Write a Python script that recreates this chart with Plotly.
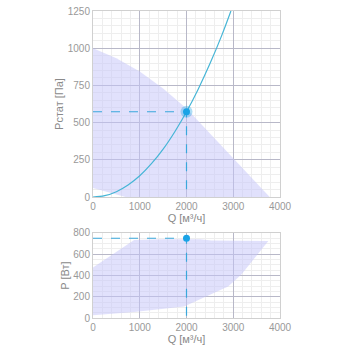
import plotly.graph_objects as go

# Fan working area (static pressure)
area_q = [0, 500, 1000, 1500, 2000, 2500, 3000, 3500, 3780, 700, 0]
area_p = [1000, 933, 843, 730, 595, 427, 260, 92, 0, 0, 60]

# System curve
sys_q = [0, 250, 500, 750, 1000, 1250, 1500, 1750, 2000, 2250, 2500, 2750, 2950]
sys_p = [0, 9, 36, 81, 143, 224, 322, 439, 573, 725, 895, 1083, 1250]

# Power area
pow_q = [0, 880, 1500, 2300, 2530, 3000, 3750, 3170, 2890, 1950, 880, 0]
pow_w = [475, 734, 742, 740, 728, 727, 725, 406, 297, 109, 56, 25]

op_q = 2000
op_p = 573
op_w = 750

fill_col = "rgba(195,195,250,0.5)"
curve_col = "#45b5d6"
pt_col = "#1aa3e6"
dash_col = "#3aa8dc"

fig = go.Figure()
fig.add_trace(go.Scatter(x=area_q, y=area_p, fill="toself", fillcolor=fill_col,
                         line=dict(width=0), mode="lines", xaxis="x", yaxis="y"))
fig.add_trace(go.Scatter(x=sys_q, y=sys_p, mode="lines", line=dict(color=curve_col, width=1.2, shape="spline"),
                         xaxis="x", yaxis="y"))
fig.add_trace(go.Scatter(x=[0, op_q, op_q], y=[op_p, op_p, 0], mode="lines",
                         line=dict(color=dash_col, width=1.2, dash="dash"), xaxis="x", yaxis="y"))
fig.add_trace(go.Scatter(x=[op_q], y=[op_p], mode="markers",
                         marker=dict(size=12, color="rgba(26,163,230,0.35)"), xaxis="x", yaxis="y"))
fig.add_trace(go.Scatter(x=[op_q], y=[op_p], mode="markers",
                         marker=dict(size=7, color=pt_col), xaxis="x", yaxis="y"))

fig.add_trace(go.Scatter(x=pow_q, y=pow_w, fill="toself", fillcolor=fill_col,
                         line=dict(width=0), mode="lines", xaxis="x2", yaxis="y2"))
fig.add_trace(go.Scatter(x=[0, op_q, op_q], y=[op_w, op_w, 0], mode="lines",
                         line=dict(color=dash_col, width=1.2, dash="dash"), xaxis="x2", yaxis="y2"))
fig.add_trace(go.Scatter(x=[op_q], y=[op_w], mode="markers",
                         marker=dict(size=7, color=pt_col), xaxis="x2", yaxis="y2"))

tick_font = dict(family="Arial, Liberation Sans, sans-serif", size=10, color="#999999")
title_font = dict(family="Arial, Liberation Sans, sans-serif", size=11, color="#8a8a8a")

def xax(anchor):
    return dict(range=[0, 4000], dtick=1000, anchor=anchor, showgrid=True, gridcolor="#b8b8c8",
                gridwidth=1, zeroline=False, showline=True, linecolor="#d0d0d0", mirror=True,
                tickfont=tick_font, ticks="", automargin=False, ticklabeloverflow="allow",
                minor=dict(dtick=200, showgrid=True, gridcolor="#eeeeee"),
                title=dict(text="Q [м³/ч]", font=title_font, standoff=2))

def yax(rng, dt, mdt, domain, title, anchor):
    return dict(range=rng, dtick=dt, domain=domain, anchor=anchor, showgrid=True, gridcolor="#b8b8c8",
                zeroline=False, showline=True, linecolor="#d0d0d0", mirror=True,
                tickfont=tick_font, ticks="", automargin=False, ticklabeloverflow="allow",
                minor=dict(dtick=mdt, showgrid=True, gridcolor="#eeeeee"),
                title=dict(text=title, font=title_font, standoff=1))

fig.update_layout(
    width=356, height=356,
    margin=dict(l=93, r=76, t=11, b=38, autoexpand=False),
    showlegend=False,
    hovermode=False,
    paper_bgcolor="white", plot_bgcolor="white",
    xaxis=xax("y"),
    yaxis=yax([0, 1250], 250, 50, [0.394, 1.0], "Pстат [Па]", "x"),
    xaxis2=xax("y2"),
    yaxis2=yax([0, 800], 200, 50, [0.0, 0.277], "P [Вт]", "x2"),
)

fig.write_html("out.html",
               config={"displayModeBar": False, "staticPlot": True},
               post_script="document.body.style.margin='0';document.body.style.overflow='hidden';")
